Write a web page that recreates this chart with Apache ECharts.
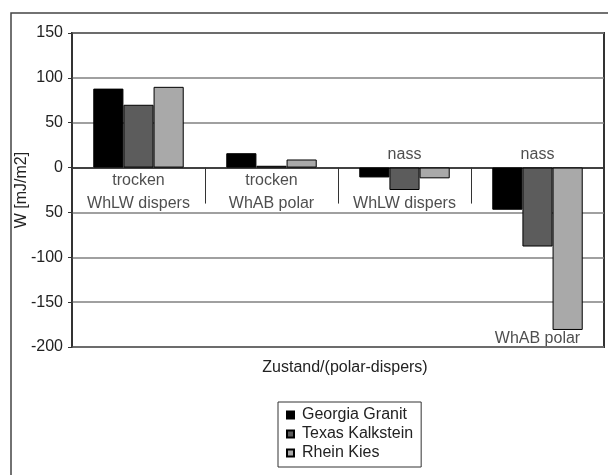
<!DOCTYPE html>
<html lang="de">
<head>
    <meta charset="UTF-8">
    <title>W [mJ/m2] nach Zustand</title>
    <script src="https://cdn.jsdelivr.net/npm/echarts@6/dist/echarts.min.js"></script>
    <style>
        html, body { margin: 0; padding: 0; background: #fff; }
        #container { width: 608px; height: 475px; }
    </style>
</head>
<body>
<div id="container"></div>
<script>
    // Kategorien (Zustand / Methode)
    var categories = ['trocken WhLW dispers', 'trocken WhAB polar', 'nass WhLW dispers', 'nass WhAB polar'];
    // Beschriftungen, wie sie im Bild stehen
    var labelAbove = ['', '', 'nass', 'nass'];
    var labelBelow1 = ['trocken', 'trocken', '', ''];
    var labelBelow2 = ['WhLW dispers', 'WhAB polar', 'WhLW dispers', ''];
    var labelBottom = ['', '', '', 'WhAB polar'];

    var seriesNames = ['Georgia Granit', 'Texas Kalkstein', 'Rhein Kies'];
    var georgia = [88, 16, -11, -47];
    var texas = [70, 2, -25, -88];
    var rhein = [90, 9, -12, -181];

    var yTickLabels = ['-200', '-150', '-100', '50', '0', '50', '100', '150'];
    var yMin = -200, yMax = 150, yStep = 50;

    var font = 'Liberation Sans, Arial, sans-serif';
    var textColor = '#222';
    var fs = 16;

    var myChart = echarts.init(document.getElementById('container'));

    // unsichtbare Punkte, die nur die Kategorie-Texte tragen
    function textSeries(texts, baseValue, pos, dist, extra) {
        var label = {
            show: true,
            position: pos,
            distance: dist,
            fontSize: fs,
            color: textColor,
            fontFamily: font,
            formatter: function (p) { return texts[p.dataIndex]; }
        };
        for (var k in extra) label[k] = extra[k];
        return {
            type: 'scatter',
            silent: true,
            symbolSize: 1,
            itemStyle: { color: 'rgba(0,0,0,0)' },
            label: label,
            labelLayout: { hideOverlap: false },
            data: categories.map(function (c, i) { return [i, baseValue]; }),
            z: 5
        };
    }

    var bars = [
        { name: seriesNames[0], type: 'bar', data: georgia },
        { name: seriesNames[1], type: 'bar', data: texas },
        { name: seriesNames[2], type: 'bar', data: rhein }
    ].map(function (s) {
        s.barGap = '0%';
        s.barCategoryGap = '32%';
        s.itemStyle = { borderColor: '#000', borderWidth: 1 };
        return s;
    });

    var texts = [
        textSeries(labelBelow1.map(function (t, i) { return t + '\n' + labelBelow2[i]; }), 0, 'bottom', 1, { lineHeight: 23 }),
        textSeries(labelAbove, 0, 'top', 4, {}),
        textSeries(labelBottom, yMin, 'top', 0, {})
    ];

    var option = {
        animation: false,
        textStyle: { fontFamily: font },
        color: ['#000000', '#5c5c5c', '#a9a9a9'],
        graphic: [{
            type: 'rect',
            shape: { x: 11, y: 13, width: 800, height: 800 },
            style: { fill: 'none', stroke: '#444', lineWidth: 1.5 },
            z: -1
        }],
        grid: {
            left: 72, top: 33, right: 4, bottom: 128,
            outerBoundsMode: 'none',
            containLabel: false,
            show: true,
            borderColor: '#333',
            borderWidth: 2
        },
        legend: {
            data: seriesNames,
            orient: 'vertical',
            left: 278,
            top: 402,
            icon: 'rect',
            itemWidth: 7,
            itemHeight: 7,
            itemGap: 3,
            padding: [5, 8, 6, 8],
            borderColor: '#333',
            borderWidth: 1,
            textStyle: { fontSize: fs, color: textColor, fontFamily: font, padding: [0, 0, 0, 3] }
        },
        tooltip: { show: false },
        xAxis: [{
            type: 'category',
            data: categories,
            position: 'bottom',
            axisLine: { onZero: true, lineStyle: { color: '#222', width: 1.5 } },
            axisTick: { show: true, interval: 0, length: 36, lineStyle: { color: '#333', width: 1 } },
            axisLabel: { show: false, interval: 0 }
        }, {
            type: 'category',
            data: categories,
            position: 'bottom',
            axisLine: { show: false, onZero: false },
            axisTick: { show: false },
            axisLabel: { show: false },
            name: 'Zustand/(polar-dispers)',
            nameLocation: 'middle',
            nameGap: 13,
            nameMoveOverlap: false,
            nameTextStyle: { fontSize: fs, color: textColor, padding: [0, 0, 0, 14] }
        }],
        yAxis: {
            type: 'value',
            min: yMin,
            max: yMax,
            interval: yStep,
            name: 'W [mJ/m2]',
            nameLocation: 'middle',
            nameGap: 42,
            nameMoveOverlap: false,
            nameRotate: 90,
            nameTextStyle: { fontSize: fs, color: textColor },
            axisLine: { show: true, lineStyle: { color: '#333', width: 1.5 } },
            axisTick: { show: true, length: 4, lineStyle: { color: '#333' } },
            axisLabel: {
                fontSize: fs,
                margin: 9,
                color: textColor,
                formatter: function (v) {
                    return yTickLabels[Math.round((v - yMin) / yStep)];
                }
            },
            splitLine: { lineStyle: { color: '#808080', width: 1.5 } }
        },
        series: bars.concat(texts)
    };

    myChart.setOption(option);

    window.onresize = function () {
        myChart.resize();
    };
</script>
</body>
</html>
